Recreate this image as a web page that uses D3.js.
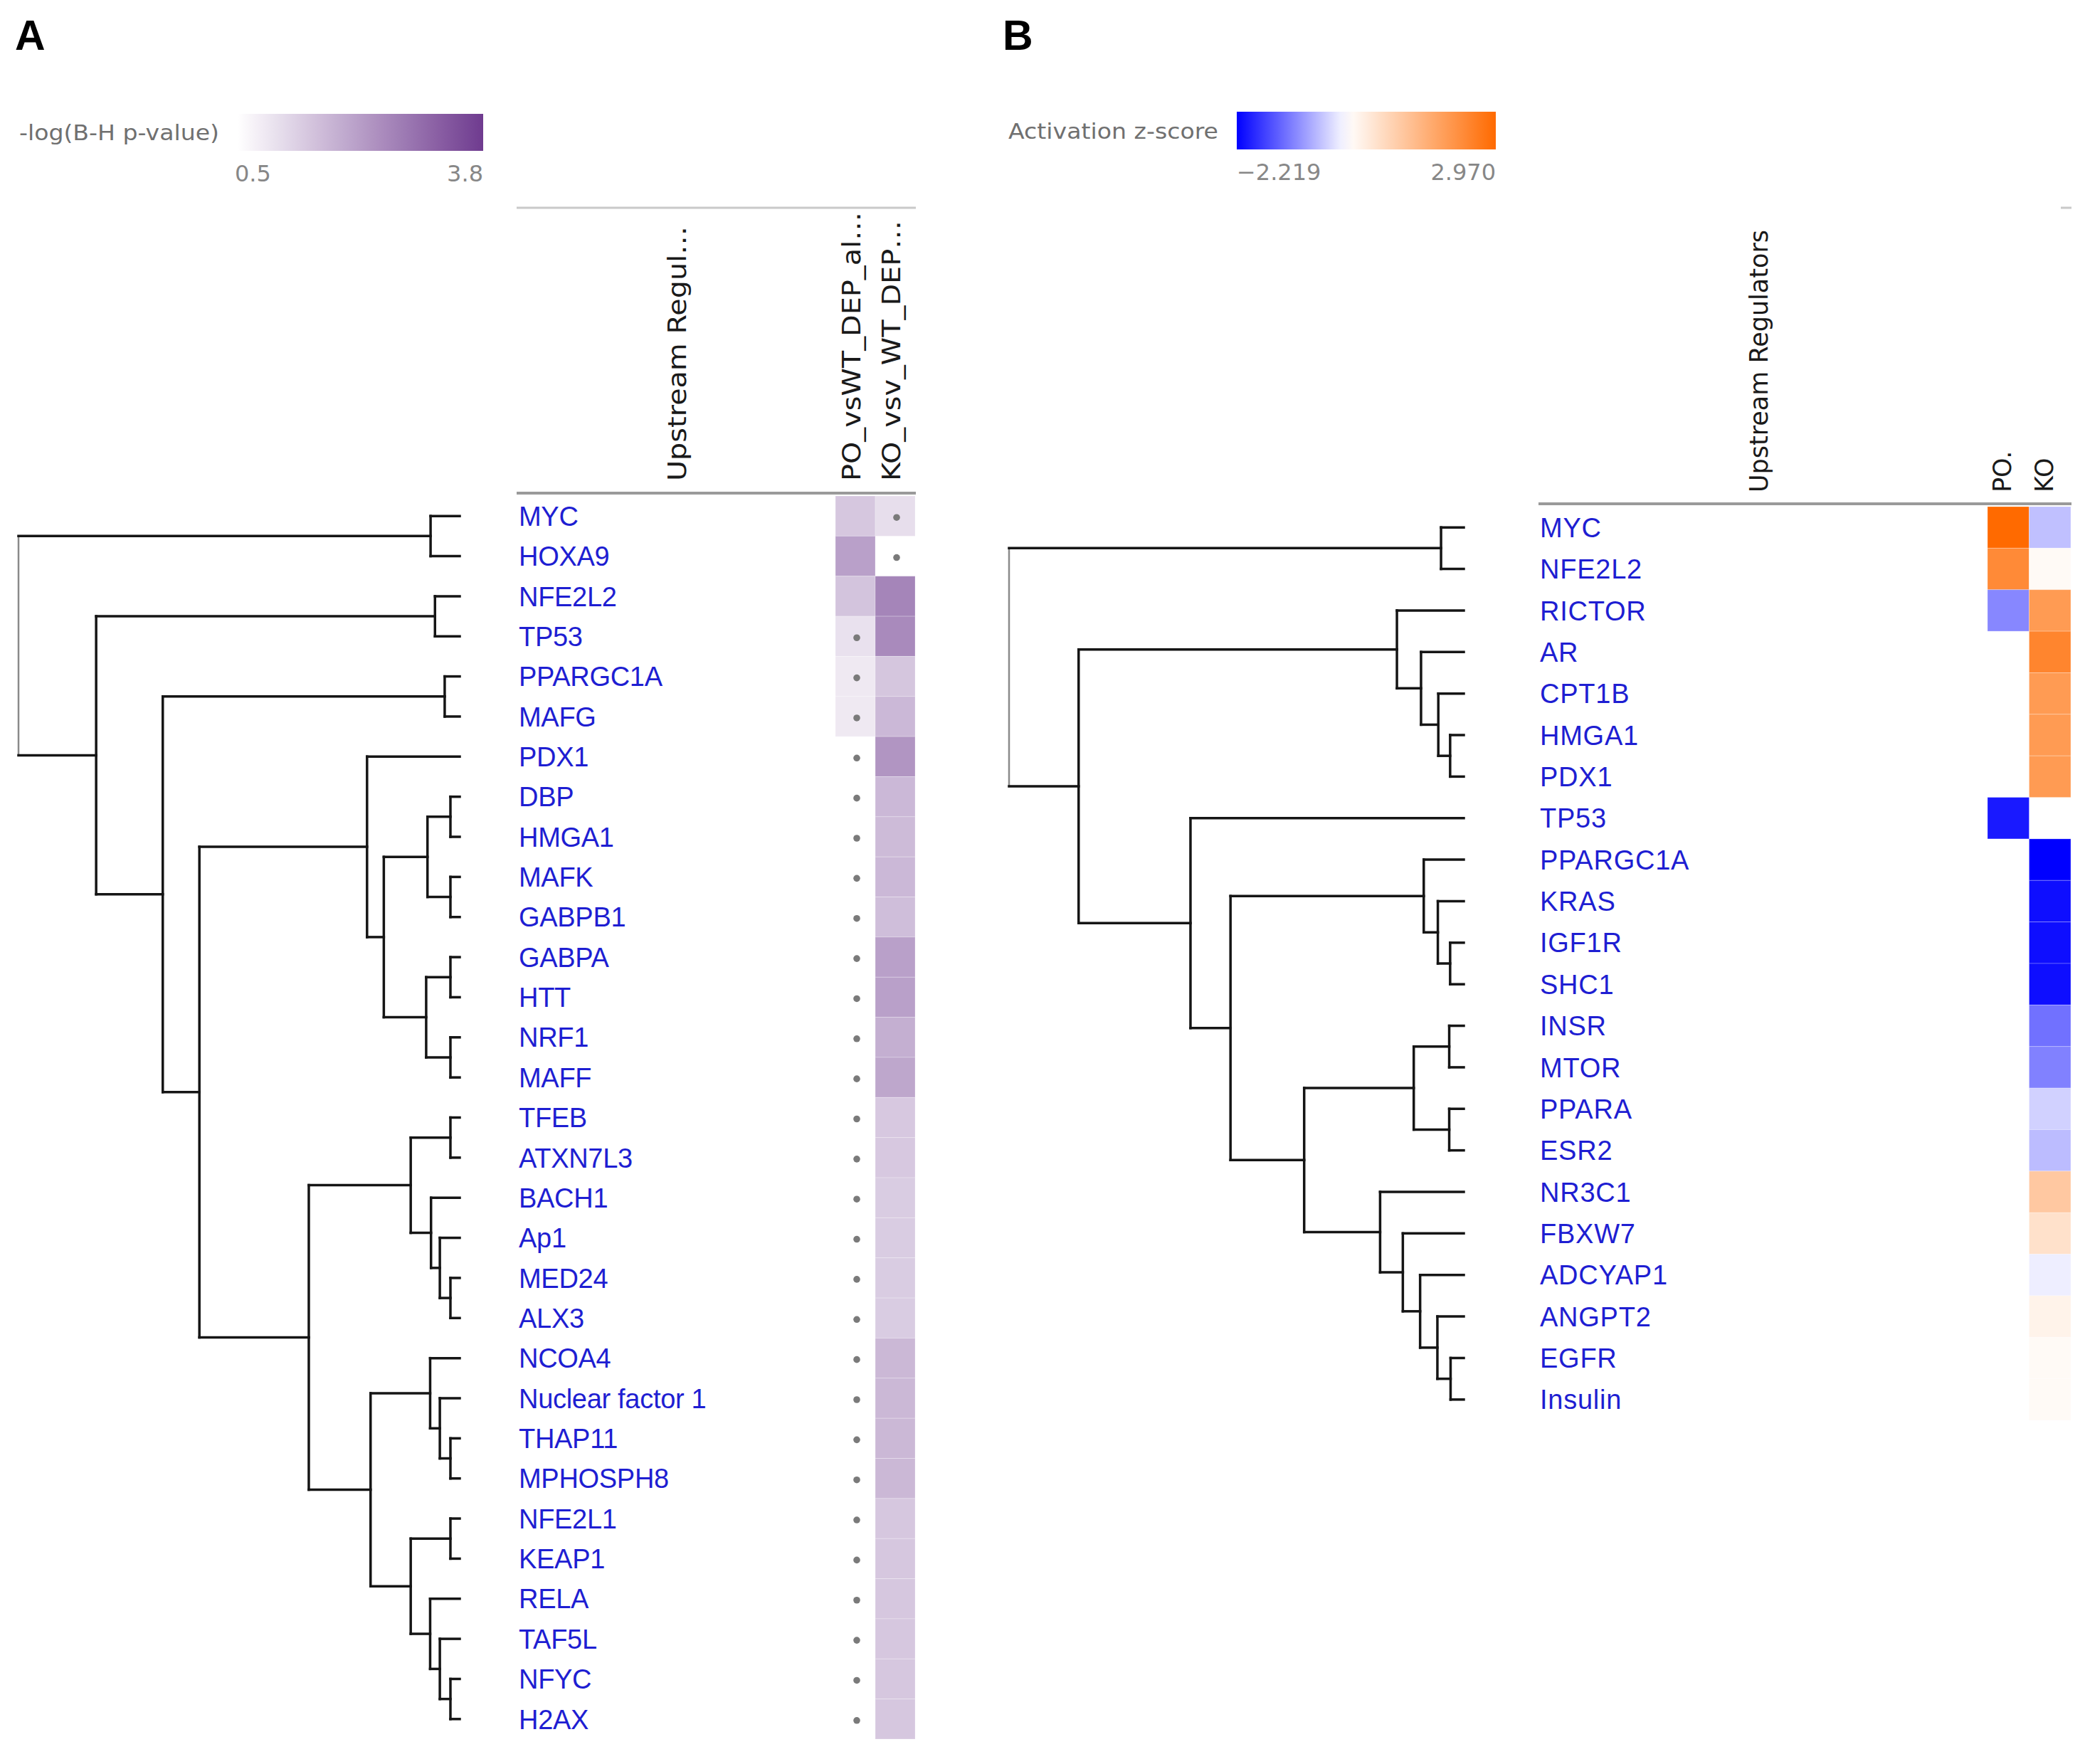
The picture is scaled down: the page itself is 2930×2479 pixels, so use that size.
<!DOCTYPE html>
<html><head><meta charset="utf-8">
<script src="https://cdn.jsdelivr.net/npm/d3@7"></script>
<style>html,body{margin:0;padding:0;background:#fff;} svg{display:block}</style>
</head><body>
<svg id="chart" width="2930" height="2479"></svg>
<script>
// ---------------- DATA : panel A ----------------
const leavesA = ["MYC","HOXA9","NFE2L2","TP53","PPARGC1A","MAFG","PDX1","DBP","HMGA1","MAFK","GABPB1","GABPA","HTT","NRF1","MAFF","TFEB","ATXN7L3","BACH1","Ap1","MED24","ALX3","NCOA4","Nuclear factor 1","THAP11","MPHOSPH8","NFE2L1","KEAP1","RELA","TAF5L","NFYC","H2AX"];
const columnsA = ["PO_vsWT_DEP_al…","KO_vsv_WT_DEP…"];
// -log(B-H p-value); null = not present
const poA = [1.44,2.1,1.5,1.0,0.87,0.87,null,null,null,null,null,null,null,null,null,null,null,null,null,null,null,null,null,null,null,null,null,null,null,null,null];
const koA = [1.05,null,2.56,2.47,1.46,1.69,2.29,1.69,1.65,1.69,1.6,2.1,2.1,1.85,1.99,1.42,1.42,1.36,1.36,1.36,1.36,1.7,1.7,1.7,1.7,1.44,1.44,1.44,1.44,1.44,1.44];
const legendTicksA = [0.5, 3.8];
const sigThresholdA = 1.3;
// merges: [id, child1, child2, height]
const treeA = [
 ["a1","MYC","HOXA9",0.066],
 ["a2","NFE2L2","TP53",0.056],
 ["a3","PPARGC1A","MAFG",0.034],
 ["a4","DBP","HMGA1",0.021],
 ["a5","MAFK","GABPB1",0.021],
 ["a6","GABPA","HTT",0.021],
 ["a7","NRF1","MAFF",0.021],
 ["a8","a4","a5",0.073],
 ["a9","a6","a7",0.076],
 ["a10","a8","a9",0.172],
 ["a11","PDX1","a10",0.210],
 ["a12","TFEB","ATXN7L3",0.021],
 ["a13","MED24","ALX3",0.021],
 ["a14","Ap1","a13",0.045],
 ["a15","BACH1","a14",0.065],
 ["a16","a12","a15",0.111],
 ["a17","THAP11","MPHOSPH8",0.021],
 ["a18","Nuclear factor 1","a17",0.045],
 ["a19","NCOA4","a18",0.067],
 ["a20","NFE2L1","KEAP1",0.021],
 ["a21","NFYC","H2AX",0.021],
 ["a22","TAF5L","a21",0.045],
 ["a23","RELA","a22",0.067],
 ["a24","a20","a23",0.111],
 ["a25","a19","a24",0.202],
 ["a26","a16","a25",0.342],
 ["a27","a11","a26",0.590],
 ["a28","a3","a27",0.673],
 ["a29","a2","a28",0.824],
 ["a30","a1","a29",1.0]
];

// ---------------- DATA : panel B ----------------
const leavesB = ["MYC","NFE2L2","RICTOR","AR","CPT1B","HMGA1","PDX1","TP53","PPARGC1A","KRAS","IGF1R","SHC1","INSR","MTOR","PPARA","ESR2","NR3C1","FBXW7","ADCYAP1","ANGPT2","EGFR","Insulin"];
const columnsB = ["PO.","KO"];
// activation z-score; null = not present
const poB = [2.97,2.33,-1.04,null,null,null,null,-2.0,null,null,null,null,null,null,null,null,null,null,null,null,null,null];
const koB = [-0.55,0.1,2.0,2.43,2.0,2.0,2.0,null,-2.219,-2.1,-2.1,-2.1,-1.24,-1.1,-0.4,-0.58,1.1,0.6,-0.15,0.24,0.1,0.1];
const legendTicksB = [-2.219, 2.970];
const treeB = [
 ["b1","MYC","NFE2L2",0.050],
 ["b2","HMGA1","PDX1",0.030],
 ["b3","CPT1B","b2",0.056],
 ["b4","AR","b3",0.094],
 ["b5","RICTOR","b4",0.147],
 ["b6","IGF1R","SHC1",0.030],
 ["b7","KRAS","b6",0.057],
 ["b8","PPARGC1A","b7",0.088],
 ["b9","INSR","MTOR",0.032],
 ["b10","PPARA","ESR2",0.032],
 ["b11","b9","b10",0.110],
 ["b12","EGFR","Insulin",0.029],
 ["b13","ANGPT2","b12",0.058],
 ["b14","ADCYAP1","b13",0.096],
 ["b15","FBXW7","b14",0.134],
 ["b16","NR3C1","b15",0.184],
 ["b17","b11","b16",0.351],
 ["b18","b8","b17",0.513],
 ["b19","TP53","b18",0.601],
 ["b20","b5","b19",0.847],
 ["b21","b1","b20",1.0]
];

// ---------------- DRAWING ----------------
const svg = d3.select("#chart");
const LABEL_FONT = "'Liberation Sans', Arial, Helvetica, sans-serif";
const UI_FONT = "'DejaVu Sans', Verdana, sans-serif";

function buildHierarchy(merges){
  const nodes = {};
  const get = id => nodes[id] || (nodes[id] = {id, h:0, children:null});
  merges.forEach(([id,c1,c2,h])=>{
    const n = get(id); n.h = h; n.children = [get(c1), get(c2)];
  });
  return d3.hierarchy(nodes[merges[merges.length-1][0]], d => d.children);
}

function drawPanel(cfg){
  const g = svg.append("g");
  const y = d3.scaleBand().domain(cfg.leaves).range(cfg.yRange);
  const x = d3.scaleLinear().domain([0,1]).range(cfg.treeRange);
  const col = d3.scaleBand().domain(cfg.columns).range(cfg.colRange);

  // dendrogram
  const root = buildHierarchy(cfg.tree);
  root.eachAfter(n=>{
    if(!n.children) n.yy = y(n.data.id) + y.bandwidth()/2;
    else n.yy = d3.mean(n.children, c=>c.yy);
  });
  const segs = [];
  root.each(n=>{
    if(!n.children) return;
    const nx = x(n.data.h);
    segs.push({x1:nx,y1:n.children[0].yy,x2:nx,y2:n.children[1].yy,root:n.depth===0});
    n.children.forEach(c=>segs.push({x1:nx,y1:c.yy,x2:x(c.data.h),y2:c.yy,root:false}));
  });
  g.append("g").selectAll("line").data(segs).join("line")
    .attr("x1",d=>d.x1).attr("y1",d=>d.y1).attr("x2",d=>d.x2).attr("y2",d=>d.y2)
    .attr("stroke",d=>d.root?"#8a8a8a":"#151515")
    .attr("stroke-width",d=>d.root?2.5:3.5)
    .attr("stroke-linecap","square");

  // row labels
  g.append("g").selectAll("text").data(cfg.leaves).join("text")
    .attr("x",cfg.labelX).attr("y",d=>y(d)+y.bandwidth()/2).attr("dy","0.36em")
    .attr("font-family",LABEL_FONT).attr("font-size",cfg.labelSize)
    .attr("letter-spacing",cfg.labelSpacing)
    .attr("fill","#1e1ed2").text(d=>d);

  // heatmap cells
  const cells = [];
  cfg.series.forEach((vals,ci)=>vals.forEach((v,ri)=>cells.push({c:cfg.columns[ci],r:cfg.leaves[ri],v})));
  g.append("g").selectAll("rect").data(cells.filter(d=>d.v!==null)).join("rect")
    .attr("x",d=>col(d.c)).attr("y",d=>y(d.r))
    .attr("width",col.bandwidth()).attr("height",y.bandwidth())
    .attr("fill",d=>cfg.color(d.v))
    .attr("stroke","#ffffff").attr("stroke-opacity",0.25).attr("stroke-width",1);
  if(cfg.dotTest){
    g.append("g").selectAll("circle").data(cells.filter(cfg.dotTest)).join("circle")
      .attr("cx",d=>col(d.c)+col.bandwidth()/2+2).attr("cy",d=>y(d.r)+y.bandwidth()/2+2)
      .attr("r",4.8).attr("fill","#7a7a7a");
  }

  // header lines
  if(cfg.topLine) g.append("line").attr("x1",cfg.topLine[0]).attr("x2",cfg.topLine[1])
      .attr("y1",cfg.topLine[2]).attr("y2",cfg.topLine[2]).attr("stroke","#c9c9c9").attr("stroke-width",3);
  g.append("line").attr("x1",cfg.headerLine[0]).attr("x2",cfg.headerLine[1])
    .attr("y1",cfg.headerLine[2]).attr("y2",cfg.headerLine[2]).attr("stroke","#9a9a9a").attr("stroke-width",4);

  // rotated headers
  const heads = [{t:cfg.rowHeader, x:cfg.rowHeaderX, len:cfg.rowHeaderLen}]
    .concat(cfg.columns.map((c,i)=>({t:c, x:col(c)+col.bandwidth()/2+cfg.colHeadOffset, len:cfg.colHeadLen[i]})));
  g.append("g").selectAll("text").data(heads).join("text")
    .attr("transform",d=>`translate(${d.x},${cfg.headerBottom}) rotate(-90)`)
    .attr("font-family",UI_FONT).attr("font-size",cfg.headSize).attr("fill","#1a1a1a")
    .each(function(d){ if(d.len) d3.select(this).attr("textLength",d.len).attr("lengthAdjust","spacingAndGlyphs"); })
    .text(d=>d.t);

  // legend
  const gradId = "grad"+cfg.key;
  const lg = svg.append("defs").append("linearGradient").attr("id",gradId);
  const dom = cfg.color.domain();
  const lo = dom[0], hi = dom[dom.length-1];
  d3.range(0,1.0001,0.05).forEach(t=>{
    lg.append("stop").attr("offset",(t*100)+"%").attr("stop-color",cfg.color(lo+t*(hi-lo)));
  });
  const ls = d3.scaleLinear().domain([lo,hi]).range(cfg.legendX);
  g.append("rect").attr("x",ls(lo)).attr("y",cfg.legendY[0])
    .attr("width",ls(hi)-ls(lo)).attr("height",cfg.legendY[1]-cfg.legendY[0])
    .attr("fill",`url(#${gradId})`);
  g.append("text").attr("x",cfg.legendTitleX[0]).attr("y",(cfg.legendY[0]+cfg.legendY[1])/2).attr("dy","0.36em")
    .attr("font-family",UI_FONT).attr("font-size",31).attr("fill","#707070")
    .attr("textLength",cfg.legendTitleX[1]-cfg.legendTitleX[0]).attr("lengthAdjust","spacingAndGlyphs")
    .text(cfg.legendTitle);
  g.append("g").selectAll("text").data(cfg.legendTicks).join("text")
    .attr("x",(d,i)=>ls(d)+(i===0?cfg.tickShift:0))
    .attr("y",cfg.legendY[1]+31).attr("dy","0.36em")
    .attr("text-anchor",(d,i)=>i===0?"start":"end")
    .attr("font-family",UI_FONT).attr("font-size",32).attr("fill","#878787")
    .text(cfg.tickFormat);

  // panel letter
  g.append("text").attr("x",cfg.letterX).attr("y",70)
    .attr("font-family",LABEL_FONT).attr("font-weight","bold").attr("font-size",59)
    .attr("fill","#000").text(cfg.letter);
}

drawPanel({
  key:"A", letter:"A", letterX:21,
  leaves:leavesA, tree:treeA, columns:columnsA, series:[poA,koA],
  yRange:[697,2444], treeRange:[646,26], colRange:[1174,1286],
  labelX:729, labelSize:38, labelSpacing:-0.3,
  color:d3.scaleLinear().domain([0.5,3.8]).range(["#ffffff","#6f3b8f"]).clamp(true),
  dotTest:d=>d.v===null || d.v<sigThresholdA,
  topLine:[726,1287,292], headerLine:[726,1287,693],
  rowHeader:"Upstream Regul…", rowHeaderX:964, rowHeaderLen:358,
  colHeadOffset:7, colHeadLen:[378,366], headerBottom:676, headSize:36,
  legendTitle:"-log(B-H p-value)", legendTitleX:[27,308],
  legendX:[334,679], legendY:[160,212], legendTicks:legendTicksA,
  tickShift:-4, tickFormat:d=>d3.format(".1f")(d)
});

drawPanel({
  key:"B", letter:"B", letterX:1409,
  leaves:leavesB, tree:treeB, columns:columnsB, series:[poB,koB],
  yRange:[712,1996], treeRange:[2057,1418], colRange:[2793,2910],
  labelX:2164, labelSize:38, labelSpacing:0.75,
  color:d3.scaleLinear().domain([-2.219,0,2.970]).range(["#0000ff","#ffffff","#ff6a00"]).clamp(true),
  dotTest:null,
  topLine:[2896,2911,292], headerLine:[2162,2911,708],
  rowHeader:"Upstream Regulators", rowHeaderX:2484, rowHeaderLen:369,
  colHeadOffset:4, colHeadLen:[null,null], headerBottom:692, headSize:35,
  legendTitle:"Activation z-score", legendTitleX:[1417,1712],
  legendX:[1738,2102], legendY:[157,210], legendTicks:legendTicksB,
  tickShift:0, tickFormat:d=>d3.format(".3f")(d)
});
</script>
</body></html>
